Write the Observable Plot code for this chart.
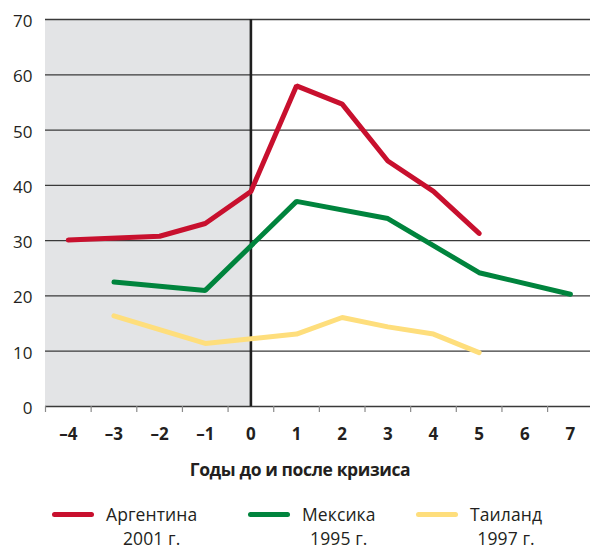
<!DOCTYPE html>
<html>
<head>
<meta charset="utf-8">
<script src="https://cdn.jsdelivr.net/npm/d3@7"></script>
<script src="https://cdn.jsdelivr.net/npm/@observablehq/plot@0.6"></script>
<style>
  body { margin: 0; background: #fff; font-family: "Open Sans", "Noto Sans", sans-serif; color: #231f20; }
  #wrap { position: relative; width: 590px; height: 551px; overflow: hidden; }
  #chart { position: absolute; left: 0; top: 0; }
  #xtitle { position: absolute; left: 10px; width: 580px; top: 457px; text-align: center; font-weight: 700; font-size: 17.5px; letter-spacing: -0.4px; }
  .item { position: absolute; top: 502px; height: 48px; }
  .sw { position: absolute; top: 10px; left: 0; width: 42px; height: 5px; border-radius: 3px; }
  .lab { position: absolute; left: 54px; top: 0; font-size: 17.5px; line-height: 24px; text-align: center; white-space: nowrap; letter-spacing: 0.1px; }
</style>
</head>
<body>
<div id="wrap">
  <div id="chart"></div>
  <div id="xtitle"></div>
  <div id="legend"></div>
</div>
<script>
// ---- data ----
const argentinaX = [-4, -2, -1, 0, 1, 2, 3, 4, 5];
const argentinaY = [30.1, 30.8, 33.1, 38.9, 58.0, 54.7, 44.4, 38.9, 31.3];
const mexicoX = [-3, -1, 1, 3, 5, 7];
const mexicoY = [22.5, 21.0, 37.1, 34.0, 24.2, 20.3];
const thailandX = [-3, -1, 1, 2, 3, 4, 5];
const thailandY = [16.4, 11.4, 13.1, 16.1, 14.4, 13.1, 9.75];
const seriesNames = ["Аргентина", "Мексика", "Таиланд"];
const seriesYears = ["2001 г.", "1995 г.", "1997 г."];
const seriesColors = ["#c8102e", "#00843d", "#fede7c"];
const xTicks = [-4, -3, -2, -1, 0, 1, 2, 3, 4, 5, 6, 7];
const yTicks = [0, 10, 20, 30, 40, 50, 60, 70];
const xTitle = "Годы до и после кризиса";
const preCrisis = [-4.5, 0];
const crisisYear = 0;

// ---- build ----
const seriesX = [argentinaX, mexicoX, thailandX];
const seriesY = [argentinaY, mexicoY, thailandY];
const rows = seriesNames.flatMap((name, i) =>
  seriesX[i].map((x, j) => ({ name, x, y: seriesY[i][j] })));
const halfTicks = xTicks.map(d => d - 0.5);
const fmt = d => d < 0 ? "–" + (-d) : String(d);
const yMin = d3.min(yTicks), yMax = d3.max(yTicks);

const chart = Plot.plot({
  width: 590,
  height: 445,
  marginTop: 19,
  marginBottom: 39,
  marginLeft: 45,
  marginRight: 0,
  style: { fontFamily: "'Open Sans', 'Noto Sans', sans-serif", color: "#231f20", background: "#fff" },
  x: { domain: [-4.5, 7.44] },
  y: { domain: [yMin, yMax] },
  color: { domain: seriesNames, range: seriesColors },
  marks: [
    Plot.rect([preCrisis], { x1: d => d[0], x2: d => d[1], y1: yMin, y2: yMax, fill: "#e3e4e6" }),
    Plot.ruleY(yTicks, { stroke: "#3a3a3a", strokeWidth: 1.3 }),
    Plot.ruleX([crisisYear], { stroke: "#1e1e1e", strokeWidth: 2.6 }),
    Plot.axisX({ ticks: halfTicks, tickFormat: () => "", tickSize: 6, stroke: "#8a8a8a", strokeWidth: 1.2, label: null }),
    Plot.axisX({ ticks: xTicks, tickFormat: fmt, tickSize: 0, tickPadding: 21, fontSize: 17, fontWeight: "bold", label: null }),
    Plot.axisY({ ticks: yTicks, tickSize: 0, tickPadding: 13, fontSize: 17, dy: 2, label: null }),
    Plot.line(rows, { x: "x", y: "y", z: "name", stroke: "name", strokeWidth: 5, strokeLinecap: "round", strokeLinejoin: "miter" })
  ]
});
document.getElementById("chart").appendChild(chart);
document.getElementById("xtitle").textContent = xTitle;

const legendLeft = [52, 248, 416];
const legend = document.getElementById("legend");
seriesNames.forEach((name, i) => {
  const item = document.createElement("div");
  item.className = "item";
  item.style.left = legendLeft[i] + "px";
  const sw = document.createElement("div");
  sw.className = "sw";
  sw.style.background = seriesColors[i];
  const lab = document.createElement("div");
  lab.className = "lab";
  const a = document.createElement("div"); a.textContent = name;
  const b = document.createElement("div"); b.textContent = seriesYears[i];
  lab.appendChild(a); lab.appendChild(b);
  item.appendChild(sw); item.appendChild(lab);
  legend.appendChild(item);
});
</script>
</body>
</html>
